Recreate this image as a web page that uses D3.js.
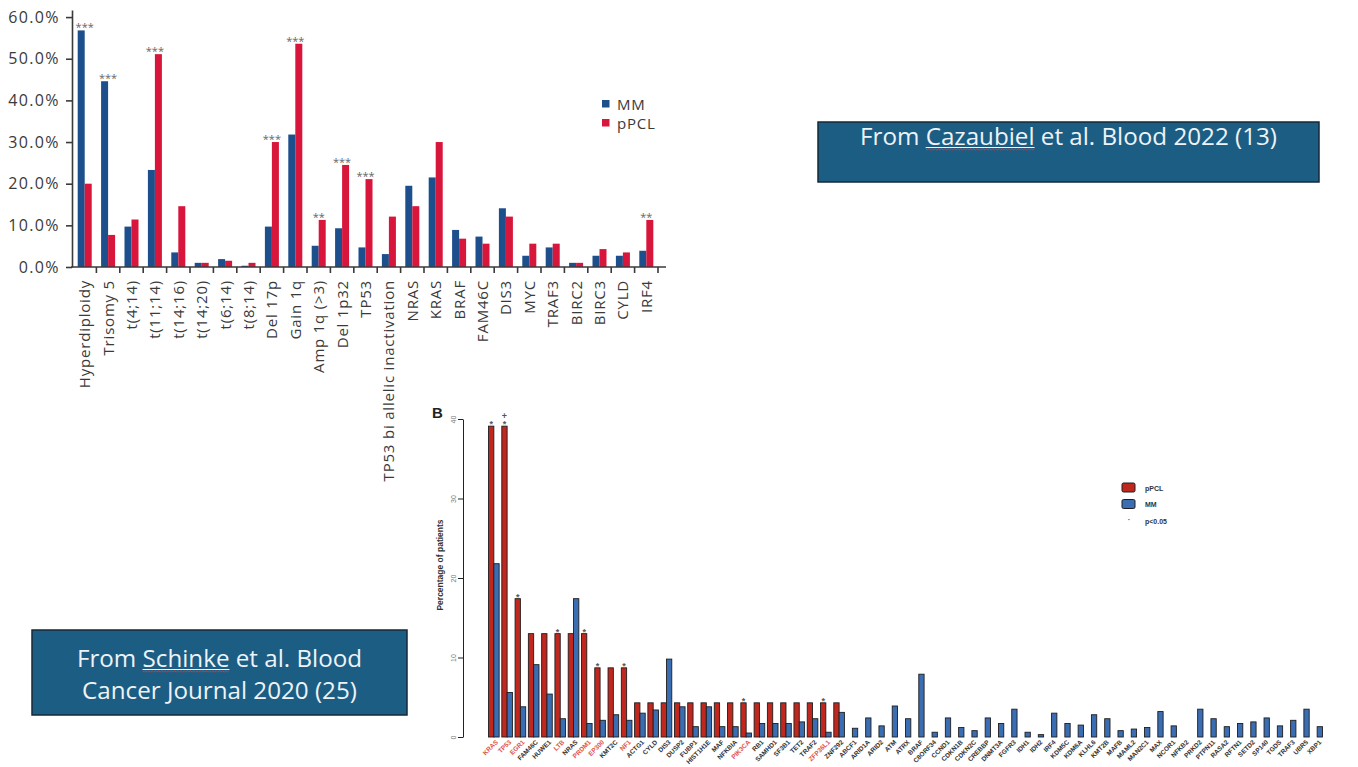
<!DOCTYPE html>
<html>
<head>
<meta charset="utf-8">
<script src="https://cdn.jsdelivr.net/npm/d3@7"></script>
<style>
  html, body { margin: 0; padding: 0; background: #fff; overflow: hidden; }
  svg { display: block; }
</style>
</head>
<body>
<svg id="chart" width="1358" height="767"></svg>
<script>
// ---------- Panel A: frequency of abnormalities, MM vs pPCL (%) ----------
const aCategories = ["Hyperdiploidy", "Trisomy 5", "t(4;14)", "t(11;14)", "t(14;16)", "t(14;20)",
  "t(6;14)", "t(8;14)", "Del 17p", "Gain 1q", "Amp 1q (>3)", "Del 1p32", "TP53",
  "TP53 bi allelic inactivation", "NRAS", "KRAS", "BRAF", "FAM46C", "DIS3", "MYC", "TRAF3",
  "BIRC2", "BIRC3", "CYLD", "IRF4"];
const aMM  = [56.8, 44.6, 9.7, 23.3, 3.5, 1.0, 1.9, 0.3, 9.7, 31.8, 5.1, 9.3, 4.7, 3.1,
  19.5, 21.5, 8.9, 7.3, 14.1, 2.7, 4.7, 1.0, 2.7, 2.7, 3.9];
const aPCL = [20.0, 7.7, 11.4, 51.1, 14.6, 1.0, 1.5, 1.0, 30.0, 53.6, 11.3, 24.5, 21.1, 12.1,
  14.6, 30.0, 6.8, 5.6, 12.1, 5.6, 5.6, 1.0, 4.3, 3.5, 11.3];
const aSignif = ["***", "***", "", "***", "", "", "", "", "***", "***", "**", "***", "***", "",
  "", "", "", "", "", "", "", "", "", "", "**"];
const aSeries = ["MM", "pPCL"];
const aTicks = [0, 10, 20, 30, 40, 50, 60];

// ---------- Panel B: percentage of patients with mutated genes ----------
const bGenes = ["KRAS", "TP53", "EGR1", "FAM46C", "HUWE1", "LTB", "NRAS", "PRDM1", "EP300", "KMT2C",
  "NF1", "ACTG1", "CYLD", "DIS3", "DUSP2", "FUBP1", "HIST1H1E", "MAF", "NFKBIA", "PIK3CA", "RB1",
  "SAMHD1", "SF3B1", "TET2", "TRAF2", "ZFP36L1", "ZNF292",
  "ABCF1", "ARID1A", "ARID2", "ATM", "ATRX", "BRAF", "C8ORF34", "CCND1", "CDKN1B", "CDKN2C",
  "CREBBP", "DNMT3A", "FGFR3", "IDH1", "IDH2", "IRF4", "KDM5C", "KDM6A", "KLHL6", "KMT2B", "MAFB",
  "MAML2", "MAN2C1", "MAX", "NCOR1", "NFKB2", "PRKD2", "PTPN11", "RASA2", "RFTN1", "SETD2",
  "SP140", "TGDS", "TRAF3", "UBR5", "XBP1"];
const bPCL = [39.1, 39.1, 17.4, 13.0, 13.0, 13.0, 13.0, 13.0, 8.7, 8.7,
  8.7, 4.3, 4.3, 4.3, 4.3, 4.3, 4.3, 4.3, 4.3, 4.3, 4.3,
  4.3, 4.3, 4.3, 4.3, 4.3, 4.3,
  0, 0, 0, 0, 0, 0, 0, 0, 0, 0,
  0, 0, 0, 0, 0, 0, 0, 0, 0, 0, 0,
  0, 0, 0, 0, 0, 0, 0, 0, 0, 0,
  0, 0, 0, 0, 0];
const bMM = [21.8, 5.6, 3.8, 9.1, 5.4, 2.3, 17.4, 1.7, 2.1, 2.8,
  2.1, 3.0, 3.4, 9.8, 3.8, 1.3, 3.8, 1.3, 1.3, 0.5, 1.7,
  1.7, 1.7, 1.9, 2.3, 0.6, 3.1,
  1.1, 2.4, 1.4, 3.9, 2.3, 7.9, 0.6, 2.4, 1.2, 0.8,
  2.4, 1.7, 3.5, 0.6, 0.3, 3.0, 1.7, 1.5, 2.8, 2.3, 0.8,
  1.0, 1.2, 3.2, 1.4, 0.0, 3.5, 2.3, 1.3, 1.7, 1.9,
  2.4, 1.4, 2.1, 3.5, 1.3];
// significance marks above each gene ("*" p<0.05, "+" additional mark)
const bSignif = ["*", "*+", "*", "", "", "*", "", "*", "*", "",
  "*", "", "", "", "", "", "", "", "", "*", "",
  "", "", "", "", "*", ""].concat(new Array(36).fill(""));
const bSeries = ["pPCL", "MM"];
const bTicks = [0, 10, 20, 30, 40];

const svg = d3.select("#chart");

// ======================= Panel A =======================
const A = {
  font: "'Open Sans', 'DejaVu Sans', sans-serif",
  axis: "#3a3a3a",
  text: "#3a3a3a",
  colors: { MM: "#1d4f8c", pPCL: "#d8163c" }
};
const gA = svg.append("g");
const xA = d3.scaleBand().domain(aCategories).range([73, 658]).padding(0);
const xASub = d3.scaleBand().domain(aSeries).range([0, xA.bandwidth()]).paddingInner(0).paddingOuter(0.67);
const yA = d3.scaleLinear().domain([0, 61.7]).range([267, 10]);

const aRows = aCategories.map((c, i) => ({ cat: c, MM: aMM[i], pPCL: aPCL[i], sig: aSignif[i] }));

// bars
gA.append("g").selectAll("g")
  .data(aRows)
  .join("g")
  .attr("transform", d => `translate(${xA(d.cat)},0)`)
  .selectAll("rect")
  .data(d => aSeries.map(s => ({ s, v: d[s] })))
  .join("rect")
  .attr("x", d => xASub(d.s))
  .attr("width", xASub.bandwidth())
  .attr("y", d => yA(d.v))
  .attr("height", d => yA(0) - yA(d.v))
  .attr("fill", d => A.colors[d.s]);

// significance stars
gA.append("g").selectAll("text")
  .data(aRows.filter(d => d.sig))
  .join("text")
  .attr("x", d => xA(d.cat) + xA.bandwidth() / 2)
  .attr("y", d => yA(Math.max(d.MM, d.pPCL)) + 1)
  .attr("text-anchor", "middle")
  .attr("font-family", A.font)
  .attr("font-size", 11)
  .attr("fill", "#666")
  .text(d => d.sig);

// y axis
const yAxisA = gA.append("g")
  .attr("transform", "translate(72,0)")
  .call(d3.axisLeft(yA).tickValues(aTicks).tickFormat(d => d.toFixed(1) + "%").tickSize(6).tickSizeOuter(0));
yAxisA.select(".domain").attr("stroke", A.axis).attr("stroke-width", 1.6);
yAxisA.selectAll(".tick line").attr("stroke", A.axis).attr("stroke-width", 1.6);
yAxisA.selectAll(".tick text")
  .attr("font-family", A.font).attr("font-size", 16).attr("fill", A.text)
  .attr("letter-spacing", 1.4).attr("x", -12);

// x axis: baseline with ticks on the band boundaries
gA.append("line")
  .attr("x1", 71).attr("x2", 666).attr("y1", yA(0)).attr("y2", yA(0))
  .attr("stroke", A.axis).attr("stroke-width", 1.6);
const xAxisA = gA.append("g")
  .attr("transform", `translate(0,${yA(0)})`)
  .call(d3.axisBottom(xA).tickSize(6).tickFormat(""));
xAxisA.select(".domain").remove();
xAxisA.selectAll(".tick").attr("transform", d => `translate(${xA(d) + xA.bandwidth()},0)`);
xAxisA.selectAll(".tick line").attr("stroke", A.axis).attr("stroke-width", 1.6);

// category labels, vertical
const xLabA = gA.append("g")
  .attr("transform", `translate(0,${yA(0)})`)
  .call(d3.axisBottom(xA).tickSize(0));
xLabA.select(".domain").remove();
xLabA.selectAll(".tick text")
  .attr("font-family", A.font).attr("font-size", 15).attr("fill", A.text)
  .attr("letter-spacing", 0.8)
  .attr("text-anchor", "end")
  .attr("transform", "rotate(-90)")
  .attr("x", -13).attr("y", 0).attr("dy", "0.36em");

// legend
const legA = gA.append("g").attr("transform", "translate(602,100)");
aSeries.forEach((s, i) => {
  legA.append("rect").attr("x", 0).attr("y", i * 19).attr("width", 7.5).attr("height", 7.5).attr("fill", A.colors[s]);
  legA.append("text").attr("x", 15).attr("y", i * 19 + 9.5)
    .attr("font-family", A.font).attr("font-size", 15).attr("letter-spacing", 0.8)
    .attr("fill", A.text).text(s);
});

// ======================= Panel B =======================
const B = {
  font: "'Liberation Sans', Arial, sans-serif",
  colors: { pPCL: "#c0281f", MM: "#3b6db3" },
  edge: "#1e1e1e",
  sigLabel: "#e0564c",
  label: "#333"
};
const gB = svg.append("g");
const xB = d3.scaleBand().domain(bGenes).range([487.2, 1323.8]).paddingInner(0.2).paddingOuter(0.1);
const xBSub = d3.scaleBand().domain(bSeries).range([0, xB.bandwidth()]).padding(0);
const yB = d3.scaleLinear().domain([0, 40]).range([737, 419]);

const bRows = bGenes.map((g, i) => ({ gene: g, pPCL: bPCL[i], MM: bMM[i], sig: bSignif[i] }));

gB.append("g").selectAll("g")
  .data(bRows)
  .join("g")
  .attr("transform", d => `translate(${xB(d.gene)},0)`)
  .selectAll("rect")
  .data(d => bSeries.map(s => ({ s, v: d[s] })).filter(d => !(d.s === "pPCL" && d.v === 0)))
  .join("rect")
  .attr("x", d => xBSub(d.s))
  .attr("width", xBSub.bandwidth())
  .attr("y", d => yB(d.v))
  .attr("height", d => yB(0) - yB(d.v))
  .attr("fill", d => B.colors[d.s])
  .attr("stroke", B.edge)
  .attr("stroke-width", 0.9);

// significance marks above the pPCL bar
const sigG = gB.append("g");
bRows.forEach(d => {
  if (!d.sig) return;
  const cx = xB(d.gene) + xBSub("pPCL") + xBSub.bandwidth() / 2;
  const top = yB(Math.max(d.pPCL, d.MM));
  d.sig.split("").forEach((m, k) => {
    sigG.append("text")
      .attr("x", cx).attr("y", m === "+" ? top - 7 : top + 1)
      .attr("text-anchor", "middle")
      .attr("font-family", B.font).attr("font-size", 9).attr("font-weight", "bold").attr("fill", "#555")
      .text(m);
  });
});

// y axis
const yAxisB = gB.append("g")
  .attr("transform", "translate(463,0)")
  .call(d3.axisLeft(yB).tickValues(bTicks).tickSize(5).tickSizeOuter(0));
yAxisB.select(".domain").attr("stroke", "#222").attr("stroke-width", 1);
yAxisB.selectAll(".tick line").attr("stroke", "#222");
yAxisB.selectAll(".tick text")
  .attr("font-family", B.font).attr("font-size", 7).attr("fill", "#777")
  .attr("text-anchor", "middle")
  .attr("transform", "rotate(-90)")
  .attr("x", 0).attr("y", -7).attr("dy", 0);

gB.append("text")
  .attr("transform", "translate(443,565) rotate(-90)")
  .attr("text-anchor", "middle")
  .attr("font-family", B.font).attr("font-size", 8.5).attr("font-weight", "bold").attr("fill", "#333")
  .text("Percentage of patients");

gB.append("text")
  .attr("x", 432).attr("y", 418)
  .attr("font-family", B.font).attr("font-size", 15).attr("font-weight", "bold").attr("fill", "#222")
  .text("B");

// gene labels, slanted
const xLabB = gB.append("g")
  .attr("transform", `translate(0,${yB(0)})`)
  .call(d3.axisBottom(xB).tickSize(0));
xLabB.select(".domain").remove();
xLabB.selectAll(".tick text")
  .attr("font-family", B.font).attr("font-size", 6.5).attr("font-weight", "bold")
  .attr("fill", (g, i) => bSignif[i] ? B.sigLabel : B.label)
  .attr("text-anchor", "end")
  .attr("transform", "translate(3,4) rotate(-45)")
  .attr("x", 0).attr("y", 0).attr("dy", "0.35em");

// legend
const legB = gB.append("g").attr("transform", "translate(1122,483)");
["pPCL", "MM"].forEach((s, i) => {
  legB.append("rect").attr("x", 0).attr("y", i * 16.5).attr("width", 13).attr("height", 9).attr("rx", 1.5)
    .attr("fill", B.colors[s]).attr("stroke", B.edge).attr("stroke-width", 1);
  legB.append("text").attr("x", 23).attr("y", i * 16.5 + 7.5)
    .attr("font-family", B.font).attr("font-size", 7).attr("font-weight", "bold").attr("fill", "#333").text(s);
});
legB.append("text").attr("x", 7).attr("y", 39).attr("text-anchor", "middle")
  .attr("font-family", B.font).attr("font-size", 8).attr("font-weight", "bold").attr("fill", "#555").text("·");
legB.append("text").attr("x", 23).attr("y", 40.5)
  .attr("font-family", B.font).attr("font-size", 7).attr("font-weight", "bold").attr("fill", "#333").text("p<0.05");

// ======================= Source boxes =======================
const boxFont = "'Open Sans', sans-serif";
function sourceBox(x, y, w, h, lines, underlineWord, fontSize) {
  const g = svg.append("g");
  g.append("rect").attr("x", x).attr("y", y).attr("width", w).attr("height", h)
    .attr("fill", "#1c5d83").attr("stroke", "#16293a").attr("stroke-width", 1.5);
  lines.forEach(l => {
    const t = g.append("text")
      .attr("x", x + w / 2).attr("y", l.y)
      .attr("text-anchor", "middle")
      .attr("font-family", boxFont).attr("font-size", fontSize).attr("fill", "#eef3f7")
      .text(l.text);
    const idx = l.text.indexOf(underlineWord);
    if (idx >= 0) {
      const node = t.node();
      const x0 = node.getStartPositionOfChar(idx).x;
      const x1 = node.getEndPositionOfChar(idx + underlineWord.length - 1).x;
      g.append("line").attr("x1", x0).attr("x2", x1).attr("y1", l.y + 2.5).attr("y2", l.y + 2.5)
        .attr("stroke", "#eef3f7").attr("stroke-width", 1);
      const pts = [];
      for (let px = x0, k = 0; px <= x1; px += 1.6, k++) pts.push([px, l.y + 4 + (k % 2 ? 1 : -0.2)]);
      g.append("path").attr("d", d3.line()(pts)).attr("fill", "none")
        .attr("stroke", "#e03535").attr("stroke-width", 0.9);
    }
  });
}
sourceBox(818, 122, 501, 60, [{ text: "From Cazaubiel et al. Blood 2022 (13)", y: 145 }], "Cazaubiel", 24.2);
sourceBox(32, 630, 375, 85, [
  { text: "From Schinke et al. Blood", y: 667 },
  { text: "Cancer Journal 2020 (25)", y: 699 }
], "Schinke", 24.2);
</script>
</body>
</html>
